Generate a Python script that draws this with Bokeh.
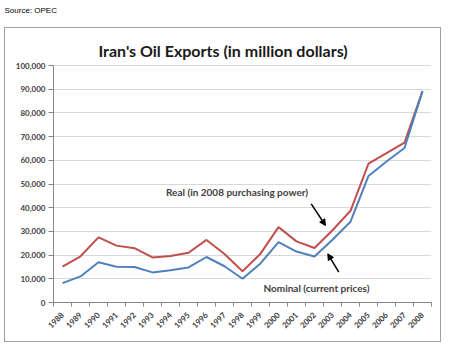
import math
from bokeh.plotting import figure
from bokeh.models import (Range1d, FixedTicker, NumeralTickFormatter, Label,
                          Arrow, NormalHead)
from bokeh.embed import file_html
from bokeh.resources import INLINE

years = list(range(1988, 2009))
real = [15100, 19500, 27500, 24000, 22900, 19000, 19600, 21000, 26400, 20500,
        13200, 20600, 31800, 25800, 23000, 30500, 38700, 58600, 63000, 67500, 89200]
nominal = [8200, 11000, 17000, 15100, 15000, 12700, 13600, 14800, 19200, 15300,
           10000, 16500, 25500, 21500, 19400, 26500, 34100, 53400, 59500, 65200, 89200]
y_ticks = list(range(0, 100001, 10000))

title_text = "Iran's Oil Exports (in million dollars)"
source_text = "Source: OPEC"
real_label = "Real (in 2008 purchasing power)"
nominal_label = "Nominal (current prices)"

RED = "#c0504d"
BLUE = "#4f81bd"
AXIS = "#868686"
TXT = "#404040"
FRAME = "#a0a0a0"

# page geometry (pixels): plot area spans x 53..431, y-value 0 at 302, 100,000 at 65
FRAME_TOP = 17
PX_PER_UNIT = (302 - 65) / 100000.0
Y_TOP = (302 - FRAME_TOP) / PX_PER_UNIT

g = "linear-gradient(%s,%s)" % (FRAME, FRAME)
frame_bg = ", ".join([
    g + " 4px 27px / 437px 1px no-repeat",
    g + " 4px 341px / 437px 1px no-repeat",
    g + " 4px 27px / 1px 315px no-repeat",
    g + " 440px 27px / 1px 315px no-repeat",
    "#ffffff",
])

p = figure(width=441, height=345, output_backend="svg", toolbar_location=None,
           x_range=Range1d(years[0] - 0.5, years[-1] + 0.5),
           y_range=Range1d(0, Y_TOP),
           min_border_left=53, min_border_right=10, min_border_top=FRAME_TOP,
           min_border_bottom=43,
           styles={"background": frame_bg})
p.background_fill_color = None
p.border_fill_color = None
p.outline_line_color = None

# source note as the plot's title (outside the plot area, top-left)
p.title.text = source_text
p.title.align = "left"
p.title.offset = -49
p.title.standoff = 6
p.title.text_font = "Liberation Sans"
p.title.text_font_style = "normal"
p.title.text_font_size = "8px"
p.title.text_color = "#000000"

p.line(years, real, line_color=RED, line_width=2)
p.line(years, nominal, line_color=BLUE, line_width=2)

p.xgrid.grid_line_color = None
p.ygrid.grid_line_color = "#d9d9d9"
p.ygrid.grid_line_width = 1

xa = p.xaxis[0]
xa.ticker = FixedTicker(ticks=years, minor_ticks=[y - 0.5 for y in years] + [years[-1] + 0.5])
xa.formatter = NumeralTickFormatter(format="0")
xa.axis_line_color = AXIS
xa.major_tick_out = 0
xa.major_tick_in = 0
xa.minor_tick_out = 4
xa.minor_tick_in = 0
xa.minor_tick_line_color = AXIS
xa.major_label_orientation = math.pi / 4
xa.major_label_text_font = "Lato"
xa.major_label_text_font_style = "bold"
xa.major_label_text_font_size = "8px"
xa.major_label_text_color = TXT
xa.major_label_standoff = 7

ya = p.yaxis[0]
ya.ticker = FixedTicker(ticks=y_ticks)
ya.bounds = (y_ticks[0], y_ticks[-1])
ya.formatter = NumeralTickFormatter(format="0,0")
ya.axis_line_color = AXIS
ya.major_tick_out = 5
ya.major_tick_in = 0
ya.major_tick_line_color = AXIS
ya.minor_tick_line_color = None
ya.major_label_text_font = "Lato"
ya.major_label_text_font_style = "bold"
ya.major_label_text_font_size = "8px"
ya.major_label_text_color = TXT
ya.major_label_standoff = 3


def xd(px):
    return years[0] - 0.5 + (px - 53) / 18.0


def yd(py):
    return (302 - py) / PX_PER_UNIT


p.add_layout(Label(x=xd(98), y=yd(50), text=title_text, text_align="left",
                   text_baseline="alphabetic", text_font="Lato", text_font_style="bold",
                   text_font_size="16px", text_color="#1a1a1a"))
p.add_layout(Label(x=xd(236.5), y=yd(191), text=real_label, text_align="center",
                   text_baseline="middle", text_font="Lato", text_font_style="bold",
                   text_font_size="10px", text_color=TXT))
p.add_layout(Label(x=xd(316), y=yd(287), text=nominal_label, text_align="center",
                   text_baseline="middle", text_font="Lato", text_font_style="bold",
                   text_font_size="10px", text_color=TXT))

p.add_layout(Arrow(x_start=xd(310.7), y_start=yd(203.3), x_end=xd(325), y_end=yd(225),
                   line_color="black", line_width=1.5,
                   end=NormalHead(size=6, fill_color="black", line_color="black")))
p.add_layout(Arrow(x_start=xd(338.3), y_start=yd(271.7), x_end=xd(327.3), y_end=yd(253.3),
                   line_color="black", line_width=1.5,
                   end=NormalHead(size=6, fill_color="black", line_color="black")))

open("out.html", "w").write(file_html(p, INLINE))
